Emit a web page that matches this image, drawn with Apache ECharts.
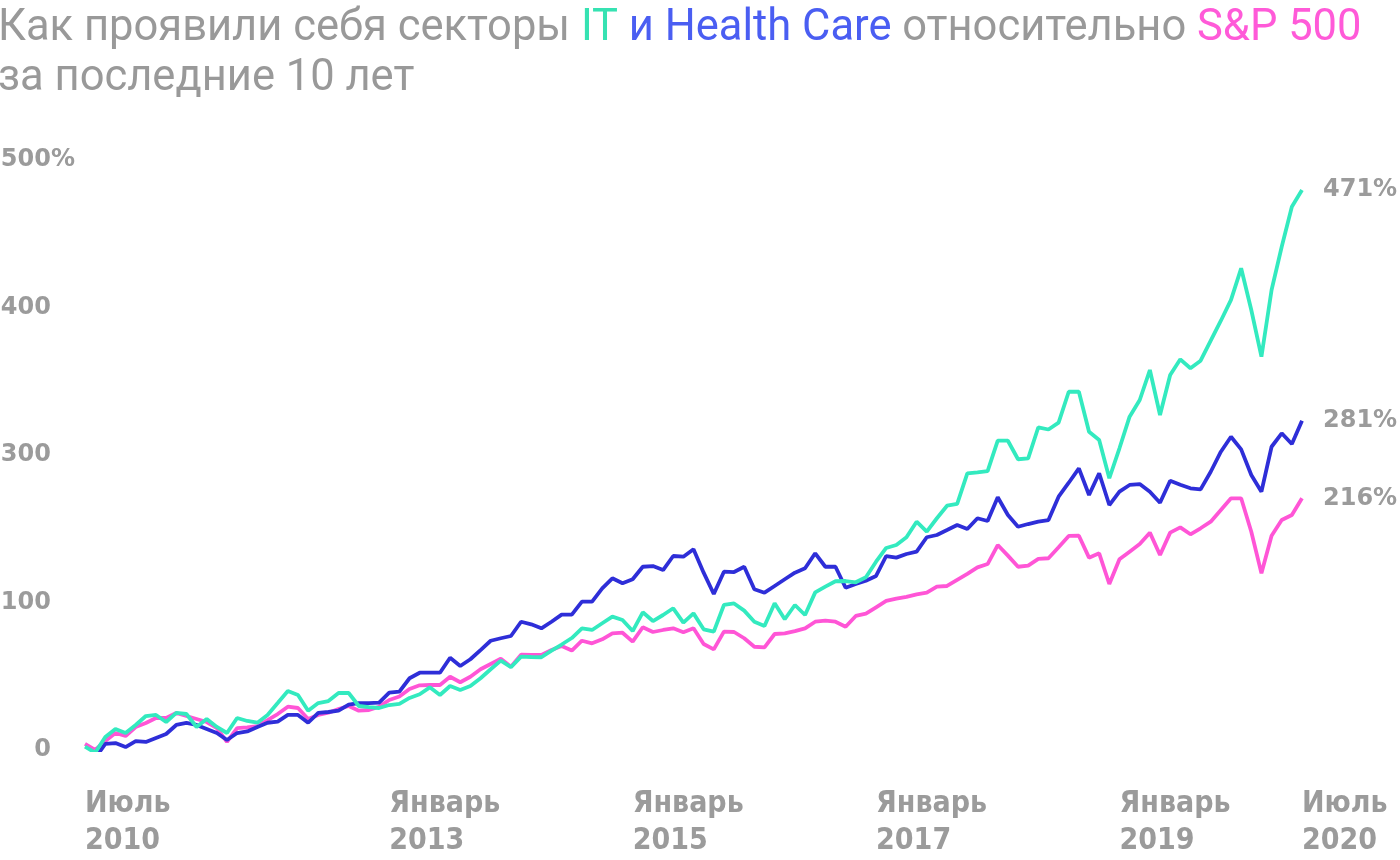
<!DOCTYPE html>
<html>
<head>
<meta charset="utf-8">
<script src="https://cdn.jsdelivr.net/npm/echarts@6/dist/echarts.min.js"></script>
<style>
html,body{margin:0;padding:0;background:#fff;}
#chart{width:1400px;height:860px;}
</style>
</head>
<body>
<div id="chart"></div>
<script>
// Monthly points, July 2010 .. July 2020
const startYear = 2010, startMonth = 7, monthCount = 121;
const categories = [];
for (let i = 0; i < monthCount; i++) {
  const m = startMonth - 1 + i;
  const y = startYear + Math.floor(m / 12);
  const mm = (m % 12) + 1;
  categories.push(y + '-' + (mm < 10 ? '0' + mm : mm));
}

const itValues = [2.8, -2.3, 11.0, 17.8, 14.4, 21.2, 28.8, 29.7, 23.7, 31.4,
 30.5, 19.5, 26.3, 19.5, 14.4, 27.1, 24.6, 23.1, 29.7, 39.8,
 50.0, 46.6, 33.3, 39.8, 41.5, 48.3, 48.3, 37.3, 36.4, 35.6,
 38.1, 39.0, 44.1, 47.2, 53.1, 46.6, 54.2, 50.8, 54.2, 60.8,
 68.4, 75.7, 70.1, 79.1, 78.8, 78.6, 84.2, 89.4, 94.9, 103.1,
 101.7, 107.4, 113.0, 110.2, 100.8, 116.7, 109.3, 114.4, 120.1, 107.9,
 115.8, 102.3, 100.3, 122.9, 124.2, 118.1, 108.7, 105.1, 124.3, 110.8,
 122.9, 114.4, 133.6, 138.4, 143.0, 143.2, 142.1, 146.4, 159.6, 171.2,
 173.7, 180.3, 193.5, 185.0, 196.4, 207.0, 208.5, 234.5, 235.3, 236.4,
 262.1, 262.1, 246.4, 247.2, 273.5, 271.6, 277.4, 303.6, 303.6, 269.7,
 262.7, 230.3, 255.7, 282.5, 296.6, 322.0, 283.9, 317.8, 331.1, 323.5,
 329.9, 346.9, 363.8, 381.4, 408.2, 372.9, 333.3, 389.8, 426.5, 460.4,
 474.6];

const hcValues = [-3.4, -6.8, 5.1, 5.9, 2.5, 7.6, 6.8, 10.2, 13.6, 21.2,
 22.9, 21.2, 17.8, 14.4, 8.5, 14.4, 15.7, 19.5, 23.1, 24.0,
 29.7, 29.7, 23.1, 31.4, 32.2, 33.3, 38.4, 39.8, 39.8, 40.1,
 48.6, 49.4, 60.8, 65.5, 65.5, 65.5, 78.2, 71.2, 76.9, 84.7,
 92.6, 94.7, 96.6, 108.7, 106.5, 103.1, 108.7, 114.7, 114.7, 125.7,
 125.7, 137.0, 145.5, 141.3, 144.7, 155.3, 155.9, 152.5, 164.4, 163.8,
 170.1, 150.3, 132.2, 151.1, 150.8, 155.3, 136.2, 133.3, 139.0, 144.7,
 150.3, 154.0, 166.7, 155.3, 155.3, 137.5, 140.7, 143.5, 147.5, 164.4,
 163.0, 166.1, 168.1, 180.3, 182.2, 186.4, 190.7, 187.3, 196.4, 194.1,
 214.2, 199.2, 189.2, 191.5, 193.5, 194.9, 214.7, 226.5, 238.7, 216.1,
 234.5, 207.6, 218.9, 224.6, 225.4, 218.9, 209.6, 228.2, 224.8, 221.8,
 220.9, 235.8, 252.8, 265.5, 254.8, 233.1, 218.9, 257.0, 268.4, 259.3,
 279.1];

const spValues = [5.1, 0, 7.6, 14.4, 11.9, 19.5, 22.9, 27.1, 27.1, 31.4,
 28.8, 26.3, 23.7, 18.6, 6.8, 18.6, 19.1, 20.3, 25.4, 30.5,
 36.7, 35.6, 26.3, 29.7, 31.6, 34.7, 37.3, 33.3, 33.9, 36.7,
 42.4, 45.3, 51.7, 54.8, 55.1, 55.1, 62.1, 57.4, 62.1, 68.4,
 72.9, 77.4, 70.6, 80.8, 80.5, 80.5, 84.7, 88.1, 84.3, 92.6,
 90.4, 93.8, 98.9, 99.4, 91.8, 104.0, 100.0, 101.7, 103.1, 99.7,
 103.1, 89.8, 85.3, 100.3, 100.0, 94.7, 87.5, 87.0, 98.3, 98.9,
 100.8, 103.1, 108.7, 109.6, 108.7, 104.5, 113.6, 115.5, 120.9, 126.3,
 128.2, 129.7, 131.9, 133.3, 138.4, 139.0, 144.1, 149.2, 154.8, 157.6,
 173.7, 164.7, 155.3, 156.2, 161.9, 162.5, 171.8, 181.4, 181.6, 163.0,
 166.7, 140.7, 161.6, 168.1, 174.6, 184.2, 165.3, 184.2, 188.7, 182.8,
 187.9, 193.5, 203.4, 213.3, 213.3, 185.0, 149.7, 181.6, 194.9, 199.2,
 213.3];

const endTexts = { it: '471%', hc: '281%', sp: '216%' };

const xTickIndex = [0, 30, 54, 78, 102, 120];
const xTickText = ['Июль\n2010', 'Январь\n2013', 'Январь\n2015', 'Январь\n2017', 'Январь\n2019', 'Июль\n2020'];

const yTickText = ['0', '100', '300', '400', '500%'];

const GRAY = '#9b9b9b';
const C_IT = '#33eabf';
const C_HC = '#2e2ed8';
const C_SP = '#ff55d6';

const chart = echarts.init(document.getElementById('chart'), null, { renderer: 'canvas' });

const txtBase = { fontFamily: 'Roboto', fontSize: 43.5, fontWeight: 'normal', lineHeight: 50 };

function lineSeries(name, data, color, endText) {
  return {
    name: name,
    type: 'line',
    data: data,
    showSymbol: false,
    symbol: 'none',
    smooth: false,
    lineStyle: { color: color, width: 3.8 },
    itemStyle: { color: color },
    endLabel: {
      show: true,
      formatter: () => endText,
      color: GRAY,
      fontFamily: 'DejaVu Sans',
      fontWeight: 'bold',
      fontSize: 24,
      distance: 21
    },
    emphasis: { disabled: true }
  };
}

chart.setOption({
  animation: false,
  backgroundColor: '#ffffff',
  title: {
    left: -2,
    top: 4,
    padding: 0,
    text: '{g|Как проявили себя секторы }{t|IT}{b| и Health Care}{g| относительно }{p|S&P 500}\n{g|за последние 10 лет}',
    textStyle: {
      rich: {
        g: Object.assign({ color: '#999999' }, txtBase),
        t: Object.assign({ color: '#36e2b2' }, txtBase),
        b: Object.assign({ color: '#4a5ef2' }, txtBase),
        p: Object.assign({ color: '#ff5ad8' }, txtBase)
      }
    }
  },
  grid: { left: 85, right: 98, top: 160, bottom: 110, containLabel: false, outerBoundsMode: 'none' },
  xAxis: {
    type: 'category',
    data: categories,
    boundaryGap: false,
    axisLine: { show: false },
    axisTick: { show: false },
    splitLine: { show: false },
    axisLabel: {
      interval: (idx) => xTickIndex.indexOf(idx) >= 0,
      showMaxLabel: true,
      showMinLabel: true,
      hideOverlap: false,
      formatter: (val, idx) => {
        const k = xTickIndex.indexOf(idx);
        return k >= 0 ? xTickText[k] : '';
      },
      align: 'left',
      verticalAlign: 'top',
      margin: 36,
      color: GRAY,
      fontFamily: "'Liberation Sans Narrow', 'DejaVu Sans Condensed', sans-serif",
      fontWeight: 'bold',
      fontSize: 30,
      lineHeight: 37
    }
  },
  yAxis: {
    type: 'value',
    min: 0,
    max: 500,
    interval: 125,
    axisLine: { show: false },
    axisTick: { show: false },
    splitLine: { show: false },
    axisLabel: {
      align: 'right',
      margin: 10,
      formatter: (v) => {
        const t = yTickText[Math.round(v / 125)];
        const num = t.replace('%', '');
        const pct = t.indexOf('%') >= 0;
        return '{n|' + num + '}{' + (pct ? 'n' : 'h') + '|%}';
      },
      rich: {
        n: { color: GRAY, fontFamily: 'DejaVu Sans', fontWeight: 'bold', fontSize: 24 },
        h: { color: 'rgba(0,0,0,0)', fontFamily: 'DejaVu Sans', fontWeight: 'bold', fontSize: 24 }
      }
    }
  },
  series: [
    lineSeries('S&P 500', spValues, C_SP, endTexts.sp),
    lineSeries('Health Care', hcValues, C_HC, endTexts.hc),
    lineSeries('IT', itValues, C_IT, endTexts.it)
  ]
});
</script>
</body>
</html>
